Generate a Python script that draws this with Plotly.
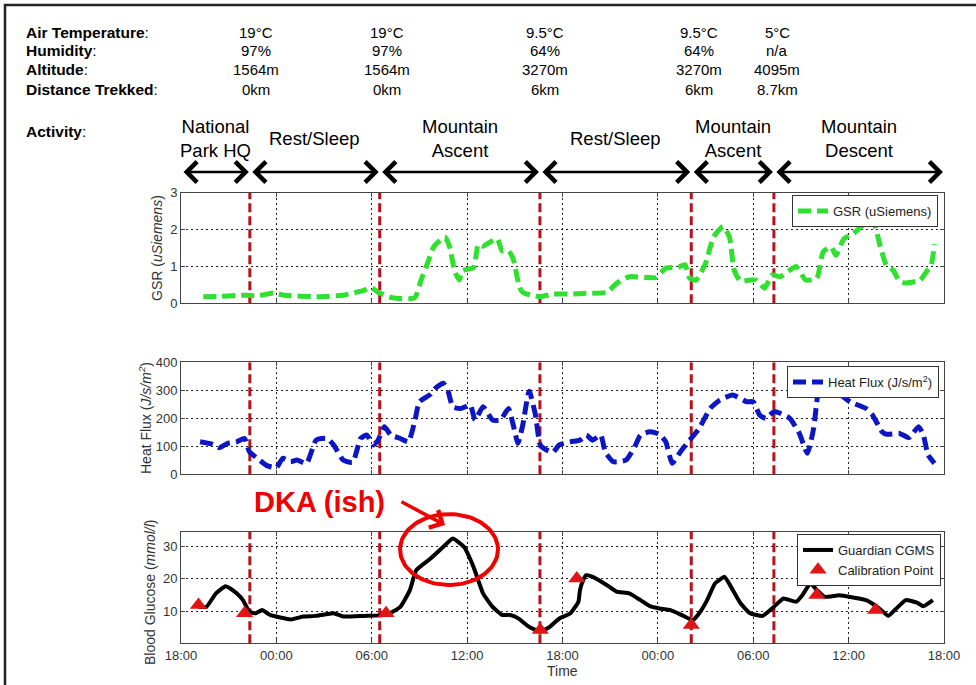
import numpy as np
import plotly.graph_objects as go

# ---------------------------------------------------------------------------
# Data (time axis in hours after 18:00 on day 1)
# ---------------------------------------------------------------------------
tick_hours = [0, 6, 12, 18, 24, 30, 36, 42, 48]
tick_labels = ["18:00", "00:00", "06:00", "12:00", "18:00", "00:00", "06:00", "12:00", "18:00"]

# activity boundaries (hours) and activity names
activity_bounds = [0, 4.33, 12.5, 22.58, 32.1, 37.3, 48]
activity_names = ["National<br>Park HQ", "Rest/Sleep", "Mountain<br>Ascent",
                  "Rest/Sleep", "Mountain<br>Ascent", "Mountain<br>Descent"]

# conditions table
cond_rows = ["Air Temperature", "Humidity", "Altitude", "Distance Trekked"]
air_temp = ["19°C", "19°C", "9.5°C", "9.5°C", "5°C"]
humidity = ["97%", "97%", "64%", "64%", "n/a"]
altitude = ["1564m", "1564m", "3270m", "3270m", "4095m"]
distance = ["0km", "0km", "6km", "6km", "8.7km"]

# galvanic skin response (uSiemens)
gsr_t = [1.4, 2.5, 4.1, 4.8, 5.8, 6.5, 8.5, 10.2, 11.5, 12.0,
         12.4, 13.3, 14.7, 15.1, 15.5, 15.9, 16.6, 16.9, 17.2, 17.5,
         17.7, 18.4, 18.7, 19.0, 19.4, 19.9, 20.2, 20.6, 20.9, 21.3,
         21.5, 22.0, 22.6, 23.4, 24.5, 25.5, 26.8, 27.4, 28.2, 29.3,
         29.9, 30.5, 31.3, 31.7, 32.0, 32.4, 33.0, 33.5, 34.1, 34.5,
         34.8, 35.2, 35.8, 36.2, 36.7, 37.2, 37.7, 38.3, 38.7, 39.3,
         40.0, 40.4, 40.9, 41.2, 41.7, 42.3, 42.9, 43.5, 44.0, 44.4,
         44.8, 45.2, 45.6, 46.5, 46.8, 47.2, 47.4]
gsr_v = [0.18, 0.19, 0.22, 0.2, 0.28, 0.22, 0.18, 0.22, 0.35, 0.42,
         0.3, 0.15, 0.15, 0.63, 1.08, 1.53, 1.8, 1.53, 0.9, 0.63,
         0.88, 0.97, 1.6, 1.55, 1.65, 1.75, 1.42, 1.42, 1.2, 0.42,
         0.3, 0.22, 0.18, 0.25, 0.25, 0.27, 0.3, 0.54, 0.72, 0.7,
         0.7, 0.95, 0.98, 1.05, 0.68, 0.63, 1.08, 1.8, 2.08, 1.8,
         0.9, 0.6, 0.63, 0.63, 0.41, 0.77, 0.72, 0.9, 1.0, 0.63,
         0.68, 1.4, 1.53, 1.3, 1.75, 1.89, 2.12, 2.26, 1.53, 1.0,
         0.9, 0.6, 0.55, 0.63, 0.8, 1.05, 1.6]

# heat flux (J/s/m^2)
hf_t = [1.2, 2.0, 2.4, 2.9, 3.5, 4.0, 4.3, 4.8, 5.4, 6.0,
        6.4, 6.9, 7.3, 7.9, 8.5, 9.2, 9.6, 10.2, 10.8, 11.3,
        11.7, 12.1, 12.4, 12.8, 13.2, 13.8, 14.3, 14.7, 15.0, 15.7,
        16.0, 16.5, 16.8, 17.1, 17.6, 18.2, 18.5, 19.0, 19.6, 20.1,
        20.6, 20.9, 21.2, 21.5, 21.9, 22.3, 22.6, 23.0, 23.4, 23.8,
        24.5, 25.1, 25.5, 25.9, 26.4, 26.7, 27.2, 28.0, 28.6, 28.9,
        29.5, 30.1, 30.5, 30.9, 31.4, 32.0, 32.6, 33.3, 33.9, 34.7,
        35.6, 36.0, 36.4, 36.8, 37.3, 37.7, 38.3, 38.9, 39.4, 39.8,
        40.1, 40.4, 41.2, 42.1, 43.1, 43.5, 44.1, 44.4, 45.2, 45.8,
        46.4, 46.7, 47.0, 47.4]
hf_v = [116, 107, 95, 110, 116, 128, 81, 57, 31, 24,
        57, 45, 51, 39, 122, 128, 105, 51, 43, 128,
        140, 105, 122, 170, 140, 128, 116, 188, 259, 286,
        307, 325, 297, 241, 235, 247, 194, 241, 194, 194,
        235, 176, 111, 176, 297, 212, 105, 87, 79, 105,
        116, 122, 140, 122, 140, 79, 45, 51, 105, 140,
        152, 143, 116, 39, 79, 122, 164, 236, 265, 283,
        259, 259, 212, 200, 224, 218, 200, 146, 75, 164,
        295, 320, 297, 259, 235, 212, 152, 143, 146, 131,
        170, 140, 69, 39]

# blood glucose from the Guardian CGMS (mmol/l)
bg_t = [1.1, 1.6, 2.2, 2.8, 3.1, 3.5, 3.9, 4.3, 4.7, 5.1,
        5.6, 6.9, 7.7, 8.5, 9.6, 10.2, 11.5, 12.9, 13.8, 14.4,
        14.8, 15.7, 16.5, 17.1, 17.8, 18.4, 19.0, 19.6, 20.2, 20.7,
        21.2, 21.9, 22.6, 23.2, 23.8, 24.5, 25.0, 25.1, 25.3, 25.5,
        25.9, 26.8, 27.4, 28.2, 28.9, 29.5, 30.1, 30.8, 31.6, 32.2,
        32.6, 33.1, 33.6, 34.2, 34.6, 35.2, 35.8, 36.6, 37.3, 37.9,
        38.7, 39.1, 39.6, 40.0, 40.5, 41.4, 42.3, 43.1, 43.8, 44.5,
        45.0, 45.6, 46.3, 46.7, 47.3]
bg_v = [11.3, 11.3, 15.5, 17.7, 17.0, 15.5, 13.4, 9.8, 9.3, 10.3,
        8.8, 7.4, 8.3, 8.5, 9.3, 8.3, 8.5, 8.8, 11.3, 16.5,
        22.7, 26.3, 29.9, 32.5, 29.9, 23.7, 15.5, 11.3, 8.8, 8.8,
        7.8, 5.1, 3.6, 5.1, 7.7, 9.3, 12.9, 16.5, 19.6, 21.1,
        20.6, 18.0, 16.0, 15.5, 13.4, 11.5, 10.8, 10.3, 8.5, 7.2,
        9.3, 13.4, 18.6, 20.6, 17.5, 12.4, 9.3, 8.5, 11.3, 13.9,
        12.9, 15.0, 18.6, 16.5, 14.4, 14.9, 14.2, 13.4, 11.3, 8.5,
        10.8, 13.4, 12.6, 11.5, 13.4]

# finger-stick calibration points (mmol/l)
cal_t = [1.1, 4.0, 12.9, 22.6, 24.9, 32.1, 40.0, 43.7]
cal_v = [11.9, 9.3, 9.3, 4.1, 20.1, 5.7, 15.0, 10.3]

# ---------------------------------------------------------------------------
# Layout helpers (page is 976 x 685 px)
# ---------------------------------------------------------------------------
W, H = 976, 685


def px(x):
    return x / W


def py(y):
    return 1 - y / H


FONT = "Liberation Sans, Arial, sans-serif"
AX_COL = "#444"
BOUND_COL = "#b5121b"
RED = "#f00000"

fig = go.Figure()

# activity boundary markers, drawn first so the data sits on top
panel_ranges = {"y": 3, "y2": 400, "y3": 34.6}
for yk, xk in (("y", "x"), ("y2", "x2"), ("y3", "x3")):
    bx, by = [], []
    for b in activity_bounds[1:-1]:
        bx += [b, b, None]
        by += [0, panel_ranges[yk], None]
    fig.add_trace(go.Scatter(x=bx, y=by, mode="lines", showlegend=False, hoverinfo="skip",
                             line=dict(color=BOUND_COL, width=3, dash="9px,4px"),
                             xaxis=xk, yaxis=yk))

fig.add_trace(go.Scatter(
    x=gsr_t, y=gsr_v, mode="lines", name="GSR (uSiemens)",
    line=dict(color="#2fe02f", width=5, dash="13px,6px", shape="spline", smoothing=0.5),
    xaxis="x", yaxis="y", legend="legend"))

fig.add_trace(go.Scatter(
    x=hf_t, y=hf_v, mode="lines", name="Heat Flux (J/s/m<sup>2</sup>)",
    line=dict(color="#0c16c4", width=5, dash="13px,6px", shape="spline", smoothing=0.5),
    xaxis="x2", yaxis="y2", legend="legend2"))

fig.add_trace(go.Scatter(
    x=bg_t, y=bg_v, mode="lines", name="Guardian CGMS",
    line=dict(color="black", width=4, shape="spline", smoothing=0.4),
    xaxis="x3", yaxis="y3", legend="legend3"))

fig.add_trace(go.Scatter(
    x=cal_t, y=cal_v, mode="markers", name="Calibration Point",
    marker=dict(symbol="triangle-up", size=15, color="#e01515", line=dict(width=0)),
    xaxis="x3", yaxis="y3", legend="legend3"))

# page-space overlay (pixel coordinates): page frame and the DKA ring
fig.add_trace(go.Scatter(x=[5, 5, W], y=[H, 5, 5], mode="lines", showlegend=False,
                         hoverinfo="skip", line=dict(color="#222", width=2.5),
                         xaxis="x4", yaxis="y4"))
theta = np.linspace(0, 2 * np.pi, 120)
fig.add_trace(go.Scatter(x=449 + 49 * np.cos(theta), y=549.5 + 35.5 * np.sin(theta),
                         mode="lines", showlegend=False, hoverinfo="skip",
                         line=dict(color=RED, width=4), xaxis="x4", yaxis="y4"))

x_dom = [px(181), px(944)]
panel_px = {"y": (192.7, 303.3), "y2": (362.3, 474.3), "y3": (531.7, 643.3)}


def x_axis(anchor, labels):
    return dict(domain=x_dom, range=[0, 48], anchor=anchor, automargin=False,
                tickmode="array", tickvals=tick_hours, ticktext=tick_labels,
                showticklabels=labels, ticks="inside", ticklen=4, tickcolor=AX_COL,
                showline=True, linecolor=AX_COL, linewidth=1, mirror="ticks",
                showgrid=True, gridcolor="#222", griddash="2px,3px", gridwidth=1,
                zeroline=False, tickfont=dict(family=FONT, size=13, color="#333"))


def y_axis(key, rng, ticks):
    top, bot = panel_px[key]
    return dict(domain=[py(bot), py(top)], range=rng, anchor="x" + key[1:], automargin=False,
                tickmode="array", tickvals=ticks,
                ticks="inside", ticklen=4, tickcolor=AX_COL,
                showline=True, linecolor=AX_COL, linewidth=1, mirror="ticks",
                showgrid=True, gridcolor="#222", griddash="2px,3px", gridwidth=1,
                zeroline=False, tickfont=dict(family=FONT, size=13, color="#333"))


annotations = []

# conditions table
row_y = [32, 51, 70, 89]
col_x = [256, 387, 545, 699, 777]
for r, (label, vals) in enumerate(zip(cond_rows, [air_temp, humidity, altitude, distance])):
    annotations.append(dict(text="<b>" + label + "</b>:", x=px(24), y=py(row_y[r]),
                            xref="paper", yref="paper", xanchor="left", yanchor="middle",
                            showarrow=False, font=dict(family=FONT, size=15.5, color="black")))
    for c, v in enumerate(vals):
        annotations.append(dict(text=v, x=px(col_x[c]), y=py(row_y[r]),
                                xref="paper", yref="paper", xanchor="center", yanchor="middle",
                                showarrow=False, font=dict(family=FONT, size=15, color="black")))

annotations.append(dict(text="<b>Activity</b>:", x=px(24), y=py(131),
                        xref="paper", yref="paper", xanchor="left", yanchor="middle",
                        showarrow=False, font=dict(family=FONT, size=15.5, color="black")))

# activity names and double-headed arrows
for i, name in enumerate(activity_names):
    a, b = activity_bounds[i], activity_bounds[i + 1]
    annotations.append(dict(text=name, x=(a + b) / 2, y=py(138), xref="x", yref="paper",
                            xanchor="center", yanchor="middle", showarrow=False,
                            font=dict(family=FONT, size=18.5, color="black")))
    annotations.append(dict(text="", x=b, y=py(172), xref="x", yref="paper",
                            ax=a, ay=0, axref="x", ayref="pixel",
                            showarrow=True, arrowside="end+start", arrowhead=4, startarrowhead=4,
                            arrowsize=1.6, startarrowsize=1.6, arrowwidth=2.5,
                            arrowcolor="black", standoff=1, startstandoff=1))

# y-axis titles
for text, xc, yc in (("GSR (<i>uSiemens</i>)", 157, 248),
                     ("Heat Flux (<i>J/s/m<sup>2</sup></i>)", 145, 418),
                     ("Blood Glucose (<i>mmol/l</i>)", 150, 592)):
    annotations.append(dict(text=text, x=px(xc), y=py(yc), xref="paper", yref="paper",
                            xanchor="center", yanchor="middle", textangle=-90, showarrow=False,
                            font=dict(family=FONT, size=14, color="#333")))

annotations.append(dict(text="Time", x=px(562), y=py(671), xref="paper", yref="paper",
                        xanchor="center", yanchor="middle", showarrow=False,
                        font=dict(family=FONT, size=14, color="#333")))

# DKA callout
annotations.append(dict(text="<b>DKA (ish)</b>", x=px(319), y=py(502), xref="paper", yref="paper",
                        xanchor="center", yanchor="middle", showarrow=False,
                        font=dict(family=FONT, size=29, color=RED)))
annotations.append(dict(text="", x=px(445), y=py(525), xref="paper", yref="paper",
                        ax=-45, ay=-24, axref="pixel", ayref="pixel", showarrow=True,
                        arrowhead=4, arrowsize=1.1, arrowwidth=3.5, arrowcolor=RED))

legend_common = dict(xanchor="right", yanchor="top", bgcolor="white",
                     bordercolor="#333", borderwidth=1,
                     font=dict(family=FONT, size=13, color="#222"),
                     itemwidth=30, tracegroupgap=0)

fig.update_layout(
    width=W, height=H,
    margin=dict(l=0, r=0, t=0, b=0, pad=0, autoexpand=False),
    paper_bgcolor="white", plot_bgcolor="rgba(0,0,0,0)",
    font=dict(family=FONT, color="#222"),
    xaxis=x_axis("y", False),
    xaxis2=x_axis("y2", False),
    xaxis3=x_axis("y3", True),
    yaxis=y_axis("y", [0, 3], [0, 1, 2, 3]),
    yaxis2=y_axis("y2", [0, 400], [0, 100, 200, 300, 400]),
    yaxis3=y_axis("y3", [0, 34.6], [10, 20, 30]),
    xaxis4=dict(domain=[0, 1], range=[0, W], visible=False, anchor="y4",
                fixedrange=True, automargin=False),
    yaxis4=dict(domain=[0, 1], range=[H, 0], visible=False, anchor="x4",
                fixedrange=True, automargin=False),
    legend=dict(x=px(938), y=py(195), **legend_common),
    legend2=dict(x=px(939), y=py(366), **legend_common),
    legend3=dict(x=px(941), y=py(534), **legend_common),
    annotations=annotations,
    showlegend=True,
)

fig.write_html("out.html")
